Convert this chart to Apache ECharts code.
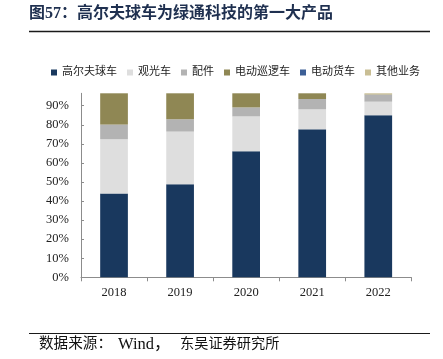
<!DOCTYPE html>
<html><head><meta charset="utf-8">
<script src="https://cdn.jsdelivr.net/npm/echarts@6/dist/echarts.min.js"></script>
<style>html,body{margin:0;padding:0;background:#fff}#c{width:443px;height:359px}</style>
</head><body><div id="c"></div>
<script>
var categories = ['2018', '2019', '2020', '2021', '2022'];
var seriesNames = ['高尔夫球车', '观光车', '配件', '电动巡逻车', '电动货车', '其他业务'];
var golfCart   = [43.9, 48.8, 66.1, 77.6, 85.0];
var sightseeing= [28.5, 27.6, 18.3, 10.5, 7.1];
var parts      = [7.7, 6.5, 4.7, 5.4, 3.7];
var patrol     = [19.9, 17.1, 10.9, 6.5, 0.2];
var freight    = [0, 0, 0, 0, 0];
var other      = [0, 0, 0, 0, 4.0];
var yTicks = ['0%', '10%', '20%', '30%', '40%', '50%', '60%', '70%', '80%', '90%'];
var colors = ['#19385e', '#dedede', '#b3b3b3', '#8f8754', '#3c5f96', '#c9be94'];

var allData = [golfCart, sightseeing, parts, patrol, freight, other];
var serif = '"Liberation Serif", "Times New Roman", "Noto Sans CJK SC", serif';
var cjk = '"Liberation Serif", "Noto Sans CJK SC", sans-serif';

var chart = echarts.init(document.getElementById('c'), null, {renderer: 'canvas'});
chart.setOption({
  animation: false,
  color: colors,
  graphic: [
    {type: 'text', left: 29, top: 6, style: {text: '图57：高尔夫球车为绿通科技的第一大产品', font: 'bold 16px ' + cjk, fill: '#1f3050'}},
    {type: 'line', shape: {x1: 29, y1: 31.5, x2: 430, y2: 31.5}, style: {stroke: '#1a1a1a', lineWidth: 1.6}},
    {type: 'line', shape: {x1: 29, y1: 333.5, x2: 430, y2: 333.5}, style: {stroke: '#1a1a1a', lineWidth: 1.2}},
    {type: 'text', left: 39, top: 337, style: {text: '数据来源：', font: '14.6px ' + cjk, fill: '#111'}},
    {type: 'text', left: 118, top: 336, style: {text: 'Wind，', font: '16.5px ' + cjk, fill: '#111'}},
    {type: 'text', left: 180, top: 337, style: {text: '东吴证券研究所', font: '14.2px ' + cjk, fill: '#111'}}
  ],
  legend: {
    data: seriesNames,
    left: 46, top: 62,
    icon: 'rect', itemWidth: 6, itemHeight: 6, itemGap: 10,
    textStyle: {fontSize: 11, fontFamily: cjk, color: '#222'}
  },
  grid: {left: 81, right: 31.7, top: 93.3, bottom: 81.7, containLabel: false},
  xAxis: {
    type: 'category', data: categories,
    axisLine: {lineStyle: {color: '#8c8c8c', width: 1}},
    axisTick: {show: true, length: 4, lineStyle: {color: '#8c8c8c'}},
    axisLabel: {fontSize: 12.5, fontFamily: serif, color: '#222', margin: 9}
  },
  yAxis: {
    type: 'value', min: 0, max: 96.5, interval: 10,
    axisLine: {show: true, lineStyle: {color: '#8c8c8c', width: 1}},
    axisTick: {show: true, inside: true, length: 3, lineStyle: {color: '#8c8c8c'}},
    splitLine: {show: false},
    axisLabel: {fontSize: 12.5, fontFamily: serif, color: '#222', margin: 12, showMaxLabel: false,
      formatter: function (v) { var i = Math.round(v / 10); return yTicks[i] !== undefined && Math.abs(v - i * 10) < 1e-6 ? yTicks[i] : ''; }}
  },
  series: seriesNames.map(function (n, k) {
    return {name: n, type: 'bar', stack: 'total', data: allData[k], barWidth: 27.7, clip: true,
      itemStyle: {color: colors[k]}};
  })
});
</script></body></html>
